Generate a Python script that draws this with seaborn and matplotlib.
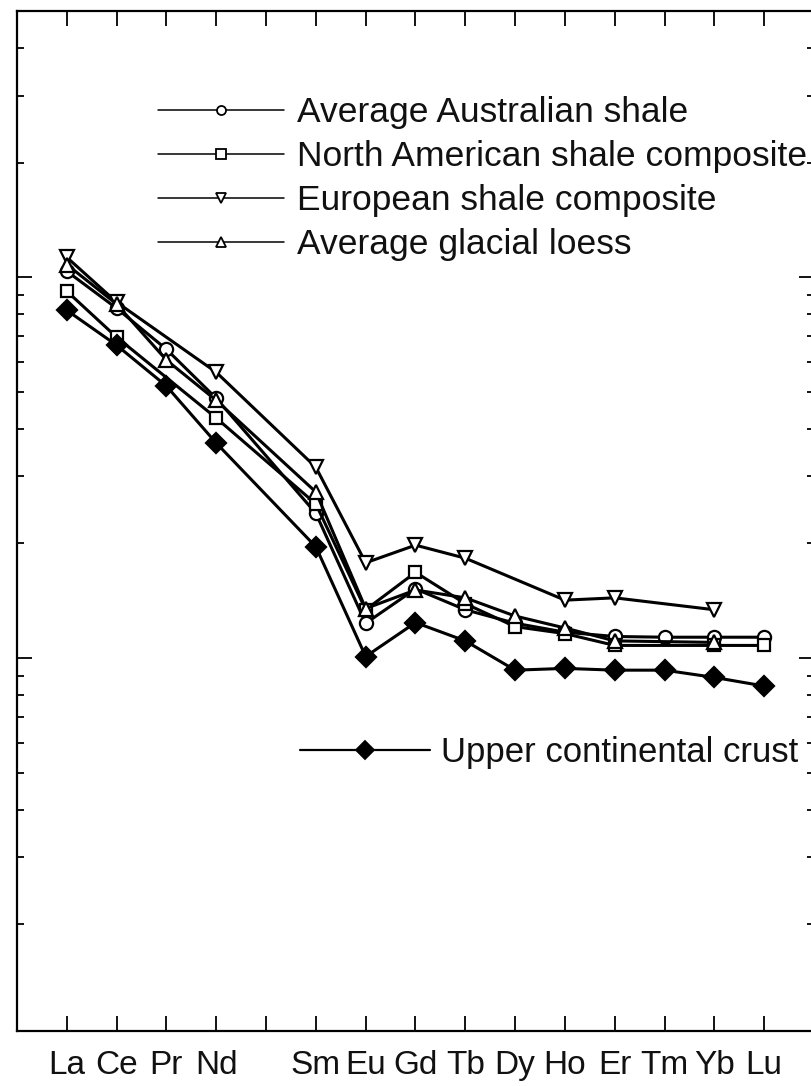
import numpy as np
import pandas as pd
import matplotlib
matplotlib.use("Agg")
import matplotlib.pyplot as plt
import seaborn as sns
from matplotlib.lines import Line2D
from matplotlib.ticker import LogLocator, NullFormatter, FixedLocator, FixedFormatter

# REE, chondrite-normalised; Pm has a tick but no label
elements = ["La", "Ce", "Pr", "Nd", "", "Sm", "Eu", "Gd", "Tb", "Dy", "Ho", "Er", "Tm", "Yb", "Lu"]
positions = list(range(1, 16))

nan = np.nan
paas = [103.7, 82.9, 64.7, 48.1, nan, 24.0, 12.35, 15.2, 13.4, 12.35, 11.7, 11.4, 11.35, 11.35, 11.35]
nasc = [91.9, 69.6, nan, 42.7, nan, 25.4, 13.4, 16.8, 13.9, 12.1, 11.6, 10.8, nan, 10.8, 10.8]
es = [112.8, 86.0, nan, 56.3, nan, 31.7, 17.8, 19.8, 18.3, nan, 14.2, 14.4, nan, 13.4, nan]
loess = [108.0, 85.0, 60.6, 47.5, nan, 27.3, 13.5, 15.1, 14.4, 12.9, 12.0, 11.1, nan, 11.0, nan]
ucc = [81.9, 66.3, 51.8, 36.7, nan, 19.6, 10.1, 12.4, 11.1, 9.3, 9.4, 9.3, 9.3, 8.9, 8.45]

shale_labels = ["Average Australian shale", "North American shale composite",
                "European shale composite", "Average glacial loess"]
ucc_label = "Upper continental crust"

series = [
    (paas, "o", "white", 9.5),
    (nasc, "s", "white", 9.0),
    (es, "v", "white", 10.0),
    (loess, "^", "white", 10.0),
    (ucc, "D", "black", 10.0),
]

sns.set_theme(style="white")
plt.rcParams["font.family"] = ["Liberation Sans", "DejaVu Sans"]

W, H = 812, 1086
fig = plt.figure(figsize=(W / 100, H / 100), dpi=100)
ax = fig.add_axes([17 / W, 1 - 1031 / H, (814 - 17) / W, (1031 - 11) / H])

for vals, mk, fc, ms in series:
    df = pd.DataFrame({"x": positions, "y": vals}).dropna()
    sns.lineplot(data=df, x="x", y="y", ax=ax, color="black", linewidth=2.2,
                 marker=mk, markersize=ms, markerfacecolor=fc,
                 markeredgecolor="black", markeredgewidth=1.6, sort=False)

ax.set_yscale("log")
ax.set_ylim(1.05, 500)
ax.set_xlim(0, 16)
ax.set_xlabel("")
ax.set_ylabel("")

ax.xaxis.set_major_locator(FixedLocator(positions))
ax.xaxis.set_major_formatter(FixedFormatter(elements))
ax.yaxis.set_major_locator(LogLocator(base=10))
ax.yaxis.set_minor_locator(LogLocator(base=10, subs=np.arange(2, 10)))
ax.yaxis.set_major_formatter(NullFormatter())
ax.yaxis.set_minor_formatter(NullFormatter())

ax.tick_params(axis="both", which="major", direction="in", length=11, width=1.3,
               color="black", top=True, right=True, bottom=True, left=True)
ax.tick_params(axis="y", which="minor", direction="in", length=5, width=1.3,
               color="black", left=True, right=True)
ax.tick_params(axis="x", pad=14, labelcolor="#111111")
for lab in ax.get_xticklabels():
    lab.set_family(["Liberation Sans Narrow", "Liberation Sans", "DejaVu Sans"])
    lab.set_fontsize(24)

for sp in ax.spines.values():
    sp.set_color("black")
    sp.set_linewidth(1.6)

# legends
def handle(mk, fc, ms, lw):
    return Line2D([], [], color="black", linewidth=lw, marker=mk, markersize=ms,
                  markerfacecolor=fc, markeredgecolor="black", markeredgewidth=1.3)

shale_handles = [handle(mk, fc, 6.5, 1.1) for _, mk, fc, _ in series[:4]]
leg1 = ax.legend(shale_handles, shale_labels, loc="upper left",
                 bbox_to_anchor=(158 / W, 1 - 96 / H), bbox_transform=fig.transFigure,
                 frameon=False, fontsize=25.5, handlelength=3.55, handletextpad=0.38,
                 labelspacing=0.31, borderpad=0, borderaxespad=0, numpoints=1)
for t in leg1.get_texts():
    t.set_color("#111111")
ax.add_artist(leg1)

leg2 = ax.legend([handle("D", "black", 9, 1.6)], [ucc_label], loc="upper left",
                 bbox_to_anchor=(300 / W, 1 - 736 / H), bbox_transform=fig.transFigure,
                 frameon=False, fontsize=25, handlelength=3.75, handletextpad=0.3,
                 borderpad=0, borderaxespad=0, numpoints=1)
for t in leg2.get_texts():
    t.set_color("#111111")

fig.savefig("out.png", dpi=100)
